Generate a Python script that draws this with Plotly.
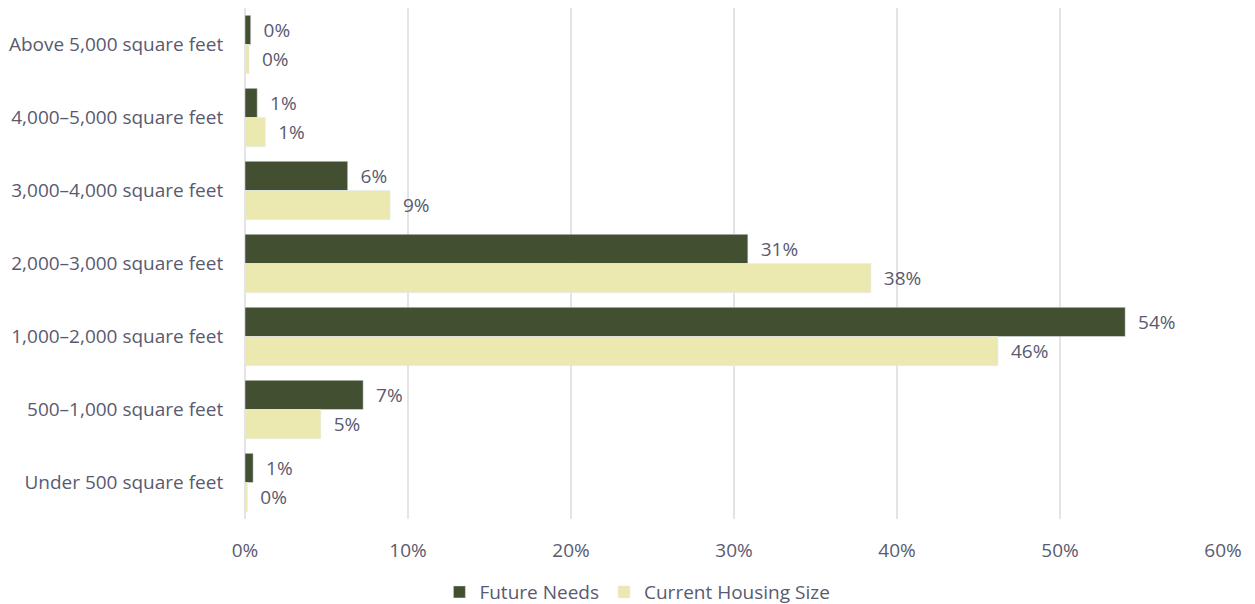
import plotly.graph_objects as go

categories = [
    "Above 5,000 square feet",
    "4,000–5,000 square feet",
    "3,000–4,000 square feet",
    "2,000–3,000 square feet",
    "1,000–2,000 square feet",
    "500–1,000 square feet",
    "Under 500 square feet",
]
future_needs = [0.35, 0.75, 6.3, 30.85, 54.0, 7.25, 0.5]
current_size = [0.25, 1.25, 8.9, 38.4, 46.2, 4.65, 0.15]
x_ticks = [0, 10, 20, 30, 40, 50, 60]

text_color = "#595a70"
font = dict(family="Open Sans", size=19, color=text_color)

fig = go.Figure()
fig.add_trace(go.Bar(
    y=categories, x=future_needs, name="Future Needs", orientation="h",
    marker=dict(color="#434f31"),
    texttemplate="  %{x:.0f}%", textposition="outside", constraintext="none",
    textfont=font, cliponaxis=False,
))
fig.add_trace(go.Bar(
    y=categories, x=current_size, name="Current Housing Size", orientation="h",
    marker=dict(color="#ebe8b0"),
    texttemplate="  %{x:.0f}%", textposition="outside", constraintext="none",
    textfont=font, cliponaxis=False,
))

# page body has an 8px margin, so the figure is offset by 8px
fig.update_layout(
    width=1239, height=596,
    margin=dict(l=237, r=24, t=0, b=85, autoexpand=False),
    paper_bgcolor="white", plot_bgcolor="white",
    font=font,
    barmode="group", bargap=0.2, bargroupgap=0,
    legend=dict(orientation="h", x=0.508, xref="container", xanchor="center",
                y=-0.143, yanchor="middle",
                font=dict(size=19, color=text_color)),
)
fig.update_xaxes(
    range=[0, 60], tickvals=x_ticks, ticktext=[f"{v}%" for v in x_ticks],
    showgrid=True, gridcolor="#e3e3e8", gridwidth=2,
    zeroline=True, zerolinecolor="#e3e3e8", zerolinewidth=2,
    ticks="outside", ticklen=14, tickcolor="white", automargin=False,
)
fig.update_yaxes(autorange="reversed", showgrid=False, ticks="outside",
                 ticklen=17, tickcolor="white", automargin=False)

fig.write_html("out.html")
